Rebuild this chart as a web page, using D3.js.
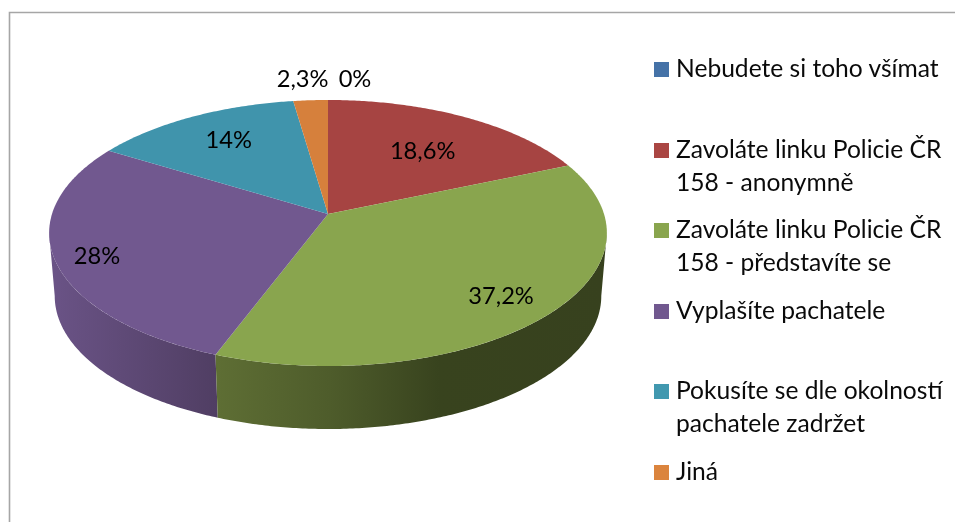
<!DOCTYPE html>
<html><head><meta charset="utf-8">
<script src="https://cdn.jsdelivr.net/npm/d3@7"></script>
<style>html,body{margin:0;padding:0;background:#fff;overflow:hidden}svg{display:block;filter:blur(0.35px)}</style>
</head><body><svg id="c" width="955" height="522"></svg>
<script>
const categories = ["Nebudete si toho všímat","Zavoláte linku Policie ČR 158 - anonymně","Zavoláte linku Policie ČR 158 - představíte se","Vyplašíte pachatele","Pokusíte se dle okolností pachatele zadržet","Jiná"];
const values = [0,18.6,37.2,28,14,2.3];
const valueLabels = ["0%","18,6%","37,2%","28%","14%","2,3%"];
const legendLines = [["Nebudete si toho všímat"],["Zavoláte linku Policie ČR","158 - anonymně"],["Zavoláte linku Policie ČR","158 - představíte se"],["Vyplašíte pachatele"],["Pokusíte se dle okolností","pachatele zadržet"],["Jiná"]];
const colors = ["#4572a7","#aa4643","#89a54e","#71588f","#4198af","#db843d"];
const faceColors = ["#4572a7","#a64442","#89a54e","#71588f","#4094ac","#d6803c"];

const FONT = "Lato, Carlito, Calibri, sans-serif";
const svg = d3.select("#c");
const cx=328, cy=214, A=276, B=130.3, P=1/7, depth=63, shrink=0.98;

// perspective projection of a point on the unit disk
const project=(a,r=1)=>{const s=Math.sin(a)*r,c=Math.cos(a)*r,w=1+P*c;return [cx+A*s/w,cy-B*c/w];};
const projectBottom=(a)=>{const [x,y]=project(a);return [cx+(x-cx)*shrink,y+depth];};

const arcs=d3.pie().sort(null).value(d=>d)(values);
const line=d3.line();
const steps=(a0,a1,da=0.01)=>{const n=Math.max(1,Math.ceil((a1-a0)/da));return d3.range(n+1).map(i=>a0+(a1-a0)*i/n);};

// frame
svg.append("path").attr("d",`M9.5 522V12.5H955`).attr("fill","none").attr("stroke","#a6a6a6").attr("stroke-width",1.6);

// walls, shaded by horizontal position; they end where the rim is at its widest
const defs=svg.append("defs");
const wallGradient=(id,x0,x1,stops)=>{
  const g=defs.append("linearGradient").attr("id",id).attr("gradientUnits","userSpaceOnUse").attr("x1",x0).attr("x2",x1).attr("y1",0).attr("y2",0);
  g.selectAll("stop").data(stops).join("stop").attr("offset",d=>d[0]).attr("stop-color",d=>d[1]);
};
wallGradient("wallPurple",52,217,[[0,"#6a5386"],[1,"#503e63"]]);
wallGradient("wallGreen",217,607,[[0,"#5e6e34"],[.29,"#4e5c2b"],[.57,"#38431e"],[1,"#37411e"]]);
const rimRight=Math.acos(-P), rimLeft=2*Math.PI-rimRight;
[{i:3,id:"wallPurple"},{i:2,id:"wallGreen"}].forEach(({i,id})=>{
  const a=arcs[i], lo=Math.max(a.startAngle,rimRight), hi=Math.min(a.endAngle,rimLeft);
  const st=steps(lo,hi);
  svg.append("path").attr("d",line([...st.map(t=>project(t)),...st.slice().reverse().map(t=>projectBottom(t))])+"Z").attr("fill",`url(#${id})`);
});

// top faces
svg.append("g").selectAll("path").data(arcs).join("path")
  .attr("d",d=>line([[cx,cy],...steps(d.startAngle,d.endAngle).map(a=>project(a))])+"Z")
  .attr("fill",(d,i)=>faceColors[i]);

// data labels
const labelPlace=[{r:1,dx:27,dy:-21},{r:.68,dx:-1,dy:5},{r:.8,dx:0,dy:4},{r:.85,dx:0,dy:5},{r:.7,dx:-1,dy:-4},{r:1.2,dx:-5,dy:-2}];
svg.append("g").selectAll("text").data(arcs).join("text")
  .attr("text-anchor","middle").attr("font-family",FONT).attr("font-size",23.7).attr("fill","#000")
  .attr("x",(d,i)=>project((d.startAngle+d.endAngle)/2,labelPlace[i].r)[0]+labelPlace[i].dx)
  .attr("y",(d,i)=>project((d.startAngle+d.endAngle)/2,labelPlace[i].r)[1]+labelPlace[i].dy+8)
  .text((d,i)=>valueLabels[i]);

// legend
const legendY=[77,158,238,319,399,480];
const lg=svg.append("g").selectAll("g").data(categories).join("g").attr("transform",(d,i)=>`translate(654,${legendY[i]})`);
lg.append("rect").attr("x",0).attr("y",-15).attr("width",15).attr("height",15).attr("fill",(d,i)=>colors[i]);
lg.each(function(d,i){
  d3.select(this).selectAll("text").data(legendLines[i]).join("text")
    .attr("x",22).attr("y",(t,j)=>j*33).attr("font-family",FONT).attr("font-size",24.6).attr("fill","#0a0a0a").text(t=>t);
});
</script></body></html>
